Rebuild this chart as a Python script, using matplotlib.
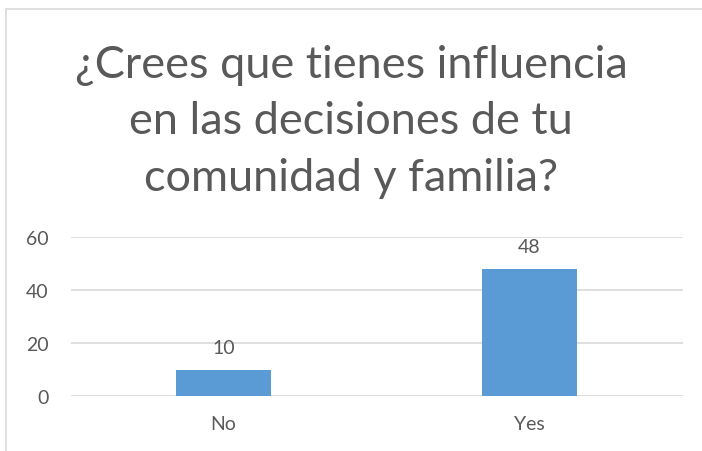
import matplotlib
matplotlib.use("Agg")
import matplotlib.pyplot as plt
from matplotlib.patches import Rectangle

categories = ["No", "Yes"]
values = [10, 48]
yticks = [0, 20, 40, 60]
title = "¿Crees que tienes influencia\nen las decisiones de tu\ncomunidad y familia?"

TEXT = "#595959"
BAR = "#5b9bd5"
GRID = "#d9d9d9"

plt.rcParams["font.family"] = ["Lato", "DejaVu Sans"]

fig = plt.figure(figsize=(7.02, 4.52), dpi=100)
W, H = 702, 452
# chart frame
fig.patches.append(Rectangle((6 / W, -0.1), 1.0, (H - 10) / H + 0.1, transform=fig.transFigure,
                             fill=False, edgecolor=GRID, linewidth=1.2))

ax = fig.add_axes([70.5 / W, 1 - 397 / H, 612 / W, 159 / H])
x = list(range(len(categories)))
bars = ax.bar(x, values, width=0.31, color=BAR, zorder=3)
for xi, v in zip(x, values):
    ax.annotate(str(v), (xi, v), xytext=(0, 10), textcoords="offset points",
                ha="center", va="bottom", fontsize=14, color=TEXT)

ax.set_xlim(-0.5, len(categories) - 0.5)
ax.set_ylim(0, 60)
ax.set_yticks(yticks)
ax.set_xticks(x)
ax.set_xticklabels(categories)
ax.tick_params(axis="both", length=0, labelsize=14, labelcolor=TEXT)
ax.tick_params(axis="y", pad=16)
ax.tick_params(axis="x", pad=14)
ax.grid(axis="y", color=GRID, linewidth=1.2, zorder=0)
for s in ax.spines.values():
    s.set_visible(False)

fig.text(0.5, 1 - 122 / H, title, ha="center", va="center", fontsize=32.5,
         color=TEXT, linespacing=1.48)

fig.savefig("out.png", dpi=100)
